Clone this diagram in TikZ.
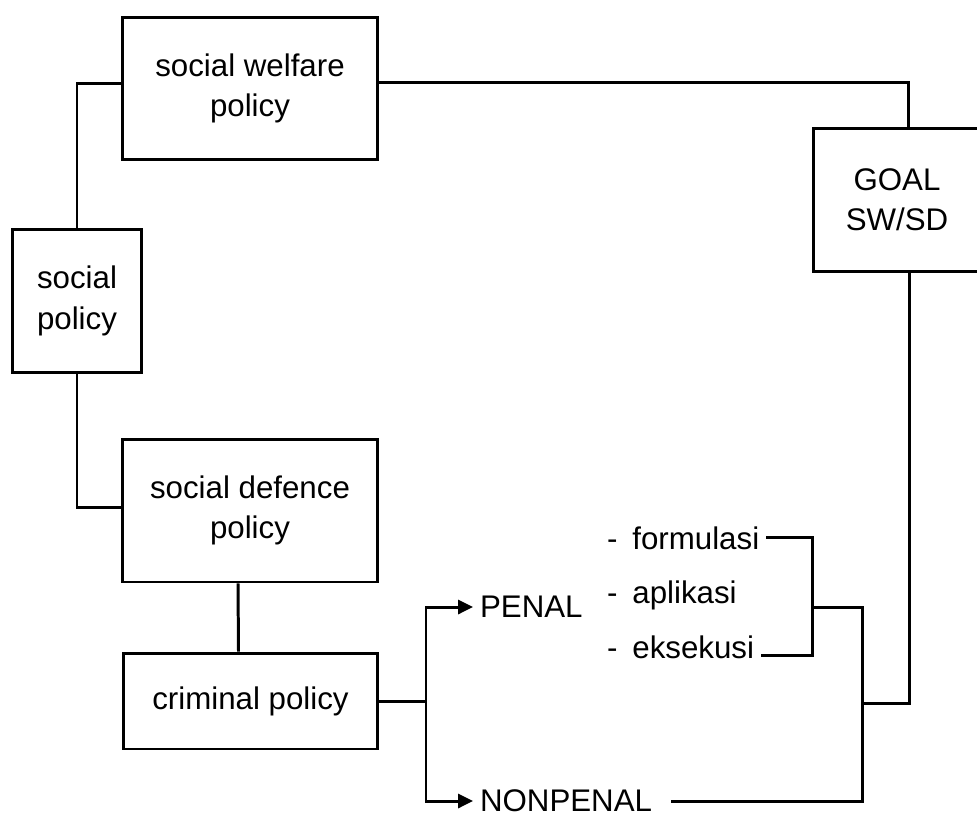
\documentclass[tikz,border=0pt]{standalone}
\usepackage{fontspec}
\setmainfont{Liberation Sans}
\usetikzlibrary{arrows.meta}

\tikzset{
    policybox/.style={draw, line width=1.7pt, align=center, inner sep=0pt,
        minimum width=5.12cm, minimum height=2.86cm},
    textitem/.style={inner sep=0pt, outer xsep=4pt, anchor=west},
    wire/.style={line width=1.7pt},
    wirearrow/.style={wire, -{Triangle[length=8.5pt,width=8pt]}}
}

\begin{document}
\begin{tikzpicture}[x=0.02cm, y=-0.02cm, font=\fontsize{17.8}{23}\selectfont]
    \useasboundingbox (0,0) rectangle (977,815);

    % Kotak kebijakan
    \node[policybox] (welfare) at (250,88.5) {social welfare\\policy};
    \node[policybox, minimum width=2.6cm, minimum height=2.88cm] (social) at (77,301) {social\\policy};
    \node[policybox] (defence) at (250,510.5) {social defence\\policy};
    \node[policybox, minimum width=5.1cm, minimum height=1.92cm] (criminal) at (250.5,701) {criminal policy};
    \node[policybox, minimum width=3.36cm, minimum height=2.88cm] (goal) at (897,200) {GOAL\\SW/SD};

    % Penal / nonpenal
    \node[textitem] (penal) at (473,607) {PENAL};
    \node[textitem] (nonpenal) at (473,801) {NONPENAL};
    \node[textitem, anchor=base west] (formulasi) at (600,549) {-\hspace{8.5pt}formulasi};
    \node[textitem, anchor=base west] (aplikasi) at (600,603) {-\hspace{8.5pt}aplikasi};
    \node[textitem, anchor=base west] (eksekusi) at (600,658) {-\hspace{8.5pt}eksekusi};

    % Garis penghubung
    \draw[wire] ([yshift=0.1cm]welfare.west) -| (social.north);
    \draw[wire] (social.south) |- ([yshift=0.07cm]defence.west);
    \draw[wire] ([yshift=0.12cm]welfare.east) -| ([xshift=0.22cm]goal.north);
    \draw[wire] ([xshift=-0.24cm]defence.south) -- ([xshift=-0.24cm]criminal.north);

    \coordinate (fork) at (426,701);
    \draw[wire] (criminal.east) -- (fork);
    \draw[wirearrow] (fork) |- (penal.west);
    \draw[wirearrow] (fork) |- (nonpenal.west);

    % Kurung tahap
    \draw[wire] (formulasi.east) -- ++(46,0) coordinate (brtop) |- ([yshift=1.7pt]eksekusi.base east);
    \coordinate (brmid) at (brtop |- penal.west);
    \coordinate (merge) at (862,703);
    \draw[wire] (brmid) -| (merge |- nonpenal.east) -- ([xshift=0.24cm]nonpenal.east);
    \draw[wire] (merge) -| ([xshift=0.24cm]goal.south);
\end{tikzpicture}
\end{document}
